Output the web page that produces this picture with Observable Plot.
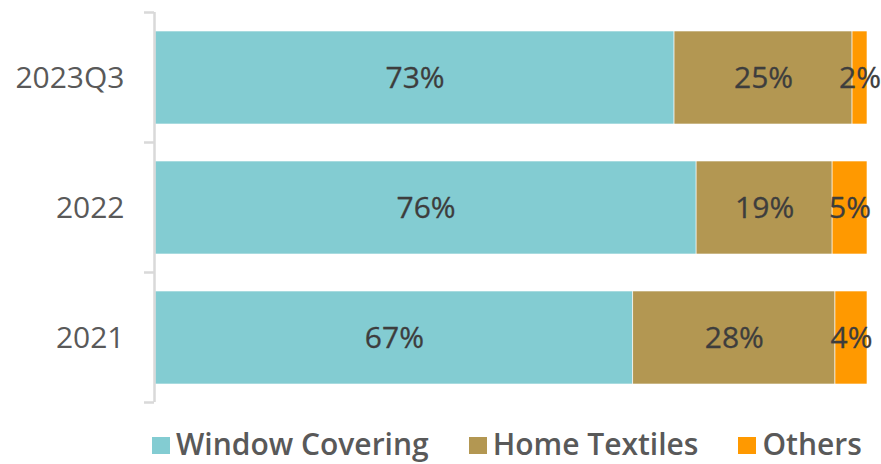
<!DOCTYPE html>
<html>
<head>
<meta charset="utf-8">
<script src="https://cdn.jsdelivr.net/npm/d3@7"></script>
<script src="https://cdn.jsdelivr.net/npm/@observablehq/plot@0.6"></script>
<style>
  html, body { margin: 0; padding: 0; background: #fff; }
  body { width: 881px; height: 464px; overflow: hidden; font-family: "Open Sans", "Noto Sans", sans-serif; }
  #chart { position: relative; width: 881px; }
  #legend { position: absolute; left: 152px; top: 428px; display: flex; align-items: center; gap: 40px;
            font-size: 30px; font-weight: 600; color: #595959; line-height: 32px; white-space: nowrap; }
  .item { display: flex; align-items: center; }
  .sw { width: 18px; height: 17px; margin-right: 6px; margin-top: 3px; }
</style>
</head>
<body>
<div id="chart"></div>
<script>
// Categories (top to bottom)
const periods = ["2023Q3", "2022", "2021"];
const seriesNames = ["Window Covering", "Home Textiles", "Others"];
const seriesColors = ["#83CCD2", "#B39752", "#FF9900"];
// Shares (%) as drawn, per period
const windowCovering = [72.9, 76.0, 67.1];
const homeTextiles   = [25.0, 19.1, 28.4];
const others         = [2.1, 4.9, 4.5];
// Printed labels (%)
const windowLabels = [73, 76, 67];
const homeLabels   = [25, 19, 28];
const otherLabels  = [2, 5, 4];

const seriesValues = [windowCovering, homeTextiles, others];
const seriesLabels = [windowLabels, homeLabels, otherLabels];
const data = [];
seriesNames.forEach((s, si) => {
  periods.forEach((p, pi) => {
    data.push({period: p, series: s, share: seriesValues[si][pi], label: seriesLabels[si][pi] + "%"});
  });
});

const plot = Plot.plot({
  width: 881,
  height: 420,
  marginLeft: 155,
  marginRight: 14,
  marginTop: 12,
  marginBottom: 18,
  style: {fontFamily: "'Open Sans', 'Noto Sans', sans-serif", background: "#fff"},
  x: {domain: [0, 100], axis: null},
  y: {domain: periods, paddingInner: 0.285, paddingOuter: 0.1425, label: null},
  color: {domain: seriesNames, range: seriesColors},
  marks: [
    Plot.barX(data, Plot.stackX({x: "share", y: "period", fill: "series", order: seriesNames, stroke: "#fff", strokeWidth: 0.6})),
    Plot.text(data, Plot.stackX({x: "share", y: "period", z: "series", order: seriesNames, text: "label",
      fill: "#3d3d3d", fontSize: 30, stroke: "#3d3d3d", strokeWidth: 0.3})),
    Plot.ruleX([0], {stroke: "#d9d9d9", strokeWidth: 2.5, dx: -1}),
    Plot.axisY({tickSize: 0, tickPadding: 31, fontSize: 30, fill: "#595959", label: null})
  ]
});

// Boundary ticks on the category axis, derived from the band scale
const ys = plot.scale("y");
const gap = ys.step - ys.bandwidth;
const bounds = periods.map(p => ys.apply(p) - gap / 2).concat([ys.apply(periods[periods.length - 1]) + ys.bandwidth + gap / 2]);
const x0 = plot.scale("x").apply(0) - 1;
d3.select(plot).append("g")
  .selectAll("line").data(bounds).join("line")
  .attr("x1", x0 - 10).attr("x2", x0)
  .attr("y1", d => d).attr("y2", d => d)
  .attr("stroke", "#d9d9d9").attr("stroke-width", 2.5);

const chart = document.getElementById("chart");
chart.appendChild(plot);

const legend = document.createElement("div");
legend.id = "legend";
seriesNames.forEach((s, i) => {
  const item = document.createElement("div");
  item.className = "item";
  const sw = document.createElement("span");
  sw.className = "sw";
  sw.style.background = seriesColors[i];
  const t = document.createElement("span");
  t.textContent = s;
  item.appendChild(sw);
  item.appendChild(t);
  legend.appendChild(item);
});
chart.appendChild(legend);
</script>
</body>
</html>
